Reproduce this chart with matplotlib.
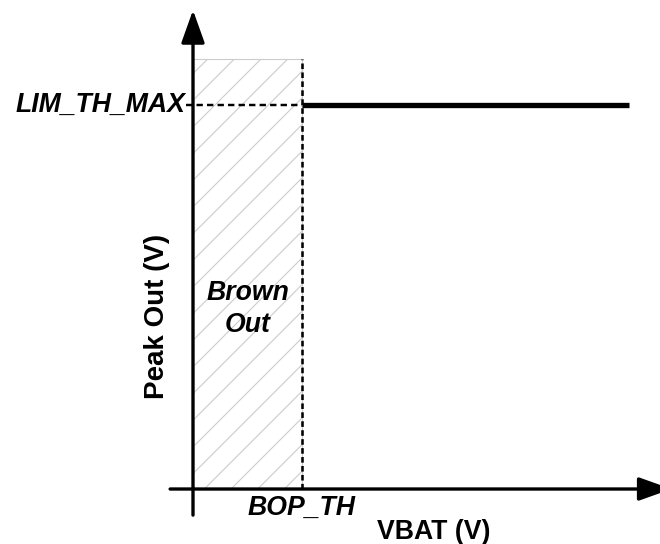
import matplotlib
matplotlib.use("Agg")
import matplotlib.pyplot as plt

# schematic values (arbitrary units)
bop_th = 1.0          # brown-out threshold on VBAT
lim_th_max = 1.0      # peak output limit
vbat_end = 4.0        # end of the limit line
brown_top = 1.12      # top of the brown-out band
x_axis = [-0.21, 4.39]
y_axis = [-0.068, 1.247]
lim_tick = -0.064

plt.rcParams["font.family"] = ["Liberation Sans", "DejaVu Sans"]
plt.rcParams["hatch.linewidth"] = 1.0

fig = plt.figure(figsize=(8.25, 6.8), dpi=80)
ax = fig.add_axes([0, 0, 1, 1])
ax.set_xlim(-1.7706, 4.2844)
ax.set_ylim(-0.1432, 1.2734)
ax.axis("off")

# brown-out band
ax.bar(0, brown_top, width=bop_th, align="edge", facecolor="white",
       edgecolor="#cccccc", hatch="/", lw=1.0, zorder=1)

# axes with arrow heads
arrow = dict(arrowstyle="-|>,head_length=1.4,head_width=0.5", lw=3.0,
             color="black", mutation_scale=18, shrinkA=0, shrinkB=0)
ax.annotate("", xy=(x_axis[1], 0), xytext=(x_axis[0], 0),
            arrowprops=arrow, annotation_clip=False, zorder=5)
ax.annotate("", xy=(0, y_axis[1]), xytext=(0, y_axis[0]),
            arrowprops=arrow, annotation_clip=False, zorder=5)

# threshold guides
ax.plot([bop_th, bop_th], [0, brown_top], color="black", lw=2.3,
        ls=(0, (2.2, 1.3)), zorder=3)
ax.plot([lim_tick, bop_th], [lim_th_max, lim_th_max], color="black", lw=2.2,
        ls=(0, (2.6, 1.7)), zorder=3)

# peak output limit
ax.plot([bop_th, vbat_end], [lim_th_max, lim_th_max], color="black", lw=4.8,
        solid_capstyle="butt", zorder=4)

ax.text(-0.073, lim_th_max, "LIM_TH_MAX", ha="right", va="center",
        fontsize=24, fontweight="bold", fontstyle="italic")
ax.text(bop_th, -0.05, "BOP_TH", ha="center", va="center",
        fontsize=24, fontweight="bold", fontstyle="italic")
ax.text(0.505, 0.469, "Brown\nOut", ha="center", va="center",
        fontsize=24, fontweight="bold", fontstyle="italic", linespacing=1.3)
ax.text(2.21, -0.112, "VBAT (V)", ha="center", va="center",
        fontsize=24, fontweight="bold")
ax.text(-0.33, 0.45, "Peak Out (V)", ha="center", va="center",
        rotation=90, fontsize=25, fontweight="bold")

fig.savefig("out.png", dpi=80)
